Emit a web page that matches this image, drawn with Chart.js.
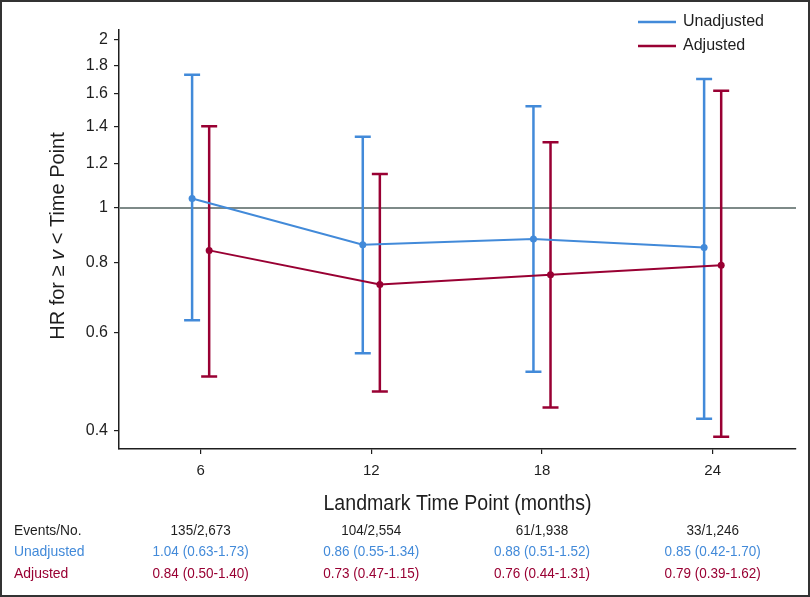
<!DOCTYPE html>
<html>
<head>
<meta charset="utf-8">
<script src="https://cdn.jsdelivr.net/npm/chart.js@4"></script>
<style>
  html, body { margin: 0; padding: 0; background: #fff; }
  #wrap { position: relative; width: 810px; height: 597px; }
</style>
</head>
<body>
<div id="wrap"><canvas id="hrChart" width="810" height="597"></canvas></div>
<script>
// Landmark analysis data
const landmarks = [6, 12, 18, 24];
const eventsNo = ['135/2,673', '104/2,554', '61/1,938', '33/1,246'];
const unadjHR = [1.04, 0.86, 0.88, 0.85];
const unadjLo = [0.63, 0.55, 0.51, 0.42];
const unadjHi = [1.73, 1.34, 1.52, 1.70];
const adjHR = [0.84, 0.73, 0.76, 0.79];
const adjLo = [0.50, 0.47, 0.44, 0.39];
const adjHi = [1.40, 1.15, 1.31, 1.62];
const yTicks = [0.4, 0.6, 0.8, 1, 1.2, 1.4, 1.6, 1.8, 2];
const refHR = 1;

const BLUE = '#428ad9';
const RED = '#990033';
const INK = '#1e1e1e';
const SANS = '"Liberation Sans", Arial, sans-serif';
const DODGE = 0.3;

function fmt(v) { return v.toFixed(2); }

// condensed-looking text: squeeze horizontally around the anchor
function narrowText(ctx, text, x, y, align, squeeze) {
    ctx.save();
    ctx.translate(x, y);
    ctx.scale(squeeze, 1);
    ctx.textAlign = align;
    ctx.fillText(text, 0, 0);
    ctx.restore();
}

const series = [
    { label: 'Unadjusted', color: BLUE, hr: unadjHR, lo: unadjLo, hi: unadjHi, shift: -DODGE },
    { label: 'Adjusted', color: RED, hr: adjHR, lo: adjLo, hi: adjHi, shift: DODGE }
];

const extras = {
    id: 'extras',
    beforeDatasetsDraw(chart) {
        const { ctx, chartArea, scales } = chart;
        const x = scales.x, y = scales.y;
        ctx.save();
        // reference line at HR = 1
        ctx.strokeStyle = '#7e8a88';
        ctx.lineWidth = 2;
        ctx.beginPath();
        ctx.moveTo(chartArea.left, y.getPixelForValue(refHR));
        ctx.lineTo(chartArea.right, y.getPixelForValue(refHR));
        ctx.stroke();
        // confidence intervals
        series.forEach(s => {
            ctx.strokeStyle = s.color;
            ctx.lineWidth = 2.5;
            landmarks.forEach((t, i) => {
                const px = x.getPixelForValue(t + s.shift);
                const top = y.getPixelForValue(s.hi[i]);
                const bot = y.getPixelForValue(s.lo[i]);
                ctx.beginPath();
                ctx.moveTo(px, top); ctx.lineTo(px, bot);
                ctx.moveTo(px - 8, top); ctx.lineTo(px + 8, top);
                ctx.moveTo(px - 8, bot); ctx.lineTo(px + 8, bot);
                ctx.stroke();
            });
        });
        ctx.restore();
    },
    afterDraw(chart) {
        const { ctx, chartArea, scales } = chart;
        const x = scales.x;
        ctx.save();

        // y axis title with italic v
        ctx.translate(58, 236);
        ctx.rotate(-Math.PI / 2);
        ctx.fillStyle = INK;
        ctx.textBaseline = 'middle';
        const parts = [['HR for \u2265 ', 'normal'], ['v', 'italic'], [' < Time Point', 'normal']];
        let total = 0;
        parts.forEach(p => { ctx.font = p[1] + ' 20px ' + SANS; total += ctx.measureText(p[0]).width; });
        let cx = -total / 2;
        ctx.textAlign = 'left';
        parts.forEach(p => {
            ctx.font = p[1] + ' 20px ' + SANS;
            ctx.fillText(p[0], cx, 0);
            cx += ctx.measureText(p[0]).width;
        });
        ctx.setTransform(1, 0, 0, 1, 0, 0);

        // legend
        ctx.font = '16px ' + SANS;
        ctx.textAlign = 'left';
        ctx.textBaseline = 'middle';
        series.forEach((s, i) => {
            const ly = 22 + i * 24;
            ctx.strokeStyle = s.color;
            ctx.lineWidth = 2.5;
            ctx.beginPath();
            ctx.moveTo(638, ly); ctx.lineTo(676, ly);
            ctx.stroke();
            ctx.fillStyle = INK;
            ctx.fillText(s.label, 683, ly);
        });

        // x axis title
        ctx.font = '22px ' + SANS;
        ctx.fillStyle = INK;
        narrowText(ctx, 'Landmark Time Point (months)', (chartArea.left + chartArea.right) / 2, 504, 'center', 0.89);

        // table below the axis
        ctx.font = '15px ' + SANS;
        ctx.fillStyle = INK;
        narrowText(ctx, 'Events/No.', 14, 531, 'left', 0.92);
        ctx.fillStyle = BLUE;
        narrowText(ctx, 'Unadjusted', 14, 552, 'left', 0.93);
        ctx.fillStyle = RED;
        narrowText(ctx, 'Adjusted', 14, 574, 'left', 0.93);
        landmarks.forEach((t, i) => {
            const px = x.getPixelForValue(t);
            ctx.fillStyle = INK;
            narrowText(ctx, eventsNo[i], px, 531, 'center', 0.9);
            ctx.fillStyle = BLUE;
            narrowText(ctx, fmt(unadjHR[i]) + ' (' + fmt(unadjLo[i]) + '-' + fmt(unadjHi[i]) + ')', px, 552, 'center', 0.9);
            ctx.fillStyle = RED;
            narrowText(ctx, fmt(adjHR[i]) + ' (' + fmt(adjLo[i]) + '-' + fmt(adjHi[i]) + ')', px, 574, 'center', 0.9);
        });

        // frame
        ctx.strokeStyle = '#333';
        ctx.lineWidth = 2;
        ctx.strokeRect(1, 1, chart.width - 2, chart.height - 2);
        ctx.restore();
    }
};

new Chart(document.getElementById('hrChart'), {
    type: 'line',
    data: {
        datasets: series.map(s => ({
            label: s.label,
            data: landmarks.map((t, i) => ({ x: t + s.shift, y: s.hr[i] })),
            borderColor: s.color,
            backgroundColor: s.color,
            borderWidth: 2,
            pointRadius: 3.5,
            pointBorderWidth: 0,
            tension: 0
        }))
    },
    options: {
        responsive: false,
        animation: false,
        layout: { padding: { left: 0, right: 14, top: 30, bottom: 0 } },
        plugins: {
            legend: { display: false },
            tooltip: { enabled: false }
        },
        scales: {
            x: {
                type: 'linear',
                min: 3.13,
                max: 26.93,
                afterBuildTicks: s => { s.ticks = landmarks.map(v => ({ value: v })); },
                afterFit: s => { s.height = 148; },
                grid: { drawOnChartArea: false, drawTicks: true, tickLength: 5, color: INK, lineWidth: 1.2 },
                border: { display: true, color: INK, width: 1.5 },
                ticks: {
                    autoSkip: false,
                    maxRotation: 0,
                    padding: 8,
                    color: INK,
                    font: { family: SANS, size: 15 },
                    callback: v => String(v)
                }
            },
            y: {
                type: 'logarithmic',
                min: 0.371,
                max: 2.08,
                afterBuildTicks: s => { s.ticks = yTicks.map(v => ({ value: v })); },
                afterFit: s => { s.width = 119; },
                grid: { drawOnChartArea: false, drawTicks: true, tickLength: 5, color: INK, lineWidth: 1.2 },
                border: { display: true, color: INK, width: 1.5 },
                ticks: {
                    autoSkip: false,
                    padding: 6,
                    color: INK,
                    font: { family: SANS, size: 16 },
                    callback: v => String(v)
                }
            }
        }
    },
    plugins: [extras]
});
</script>
</body>
</html>
